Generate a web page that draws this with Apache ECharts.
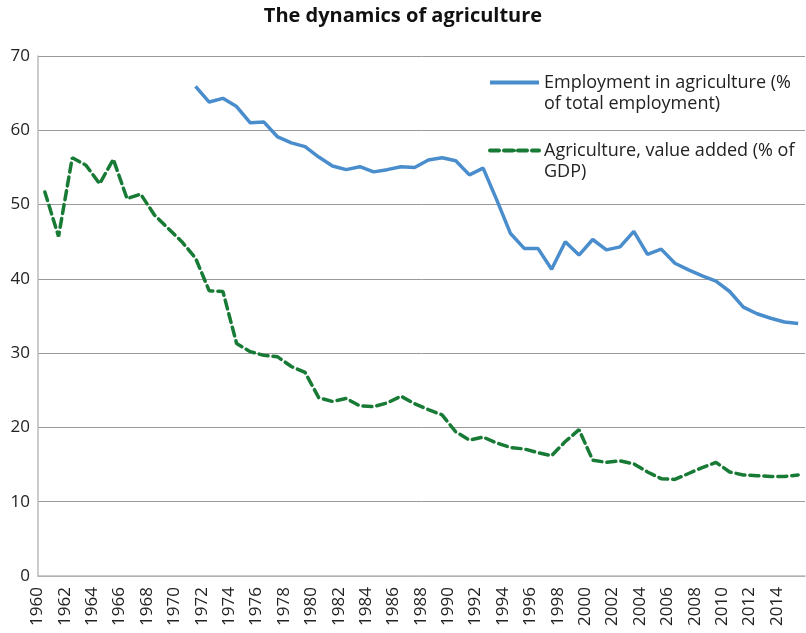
<!DOCTYPE html>
<html>
<head>
<meta charset="utf-8">
<script src="https://cdn.jsdelivr.net/npm/echarts@6/dist/echarts.min.js"></script>
<style>
  html, body { margin: 0; padding: 0; background: #fff; }
  #chart { width: 806px; height: 633px; }
</style>
</head>
<body>
<div id="chart"></div>
<script>
// years 1960..2015
const years = [];
for (let y = 1960; y <= 2015; y++) years.push(String(y));

// Employment in agriculture (% of total employment), 1960..2015 (starts 1971)
const employment = [
  null, null, null, null, null, null, null, null, null, null, null,
  65.9, 63.8, 64.3, 63.2, 61.0, 61.1, 59.1, 58.3, 57.8,
  56.4, 55.2, 54.7, 55.1, 54.4, 54.7, 55.1, 55.0, 56.0, 56.3,
  55.9, 54.0, 54.9, 50.6, 46.1, 44.1, 44.1, 41.3, 45.0, 43.2,
  45.3, 43.9, 44.3, 46.4, 43.3, 44.0, 42.1, 41.2, 40.4, 39.7,
  38.3, 36.2, 35.3, 34.7, 34.2, 34.0
];

// Agriculture, value added (% of GDP), 1960..2015
const valueAdded = [
  51.7, 45.7, 56.3, 55.3, 52.8, 56.1, 50.8, 51.4, 48.6, 46.8,
  45.0, 42.8, 38.4, 38.3, 31.3, 30.2, 29.7, 29.5, 28.2, 27.4,
  24.0, 23.5, 23.9, 22.9, 22.8, 23.3, 24.2, 23.2, 22.4, 21.7,
  19.4, 18.3, 18.7, 17.9, 17.3, 17.1, 16.6, 16.2, 18.1, 19.7,
  15.6, 15.3, 15.5, 15.1, 14.0, 13.1, 13.0, 13.8, 14.6, 15.3,
  14.0, 13.6, 13.5, 13.4, 13.4, 13.6
];

const empName = 'Employment in agriculture (%\nof total employment)';
const vaName = 'Agriculture, value added (% of\nGDP)';

const chart = echarts.init(document.getElementById('chart'));

chart.setOption({
  animation: false,
  textStyle: { fontFamily: 'Open Sans, sans-serif' },
  title: {
    text: 'The dynamics of agriculture',
    left: 'center',
    top: 1,
    textStyle: { fontSize: 20, fontWeight: 'bold', color: '#111' }
  },
  legend: {
    orient: 'vertical',
    left: 483,
    top: 46,
    itemWidth: 49,
    itemHeight: 4,
    itemGap: 5,
    lineStyle: { width: 4 },
    // blank first row so the line sits level with the first text row
    formatter: name => '\u00a0\n' + name,
    textStyle: { fontSize: 18, color: '#222', lineHeight: 21 },
    data: [{ name: empName }, { name: vaName }]
  },
  grid: { left: 38, right: 1, top: 56, bottom: 57, containLabel: false },
  xAxis: {
    type: 'category',
    data: years,
    boundaryGap: true,
    axisLine: { lineStyle: { color: '#bbb', width: 1.5 } },
    axisTick: { show: false },
    axisLabel: {
      interval: 1,
      rotate: 90,
      fontSize: 17,
      lineHeight: 15,
      verticalAlign: 'bottom',
      color: '#222',
      margin: 11
    }
  },
  yAxis: {
    type: 'value',
    min: 0,
    max: 70,
    interval: 10,
    axisLine: { show: true, lineStyle: { color: '#bbb', width: 1.5 } },
    axisTick: { show: false },
    axisLabel: { fontSize: 17, color: '#222', margin: 8 },
    splitLine: { lineStyle: { color: '#999', width: 1 } }
  },
  series: [
    {
      name: empName,
      type: 'line',
      data: employment,
      showSymbol: false,
      symbol: 'none',
      lineStyle: { color: '#4a8dcc', width: 3.5 },
      itemStyle: { color: '#4a8dcc' }
    },
    {
      name: vaName,
      type: 'line',
      data: valueAdded,
      showSymbol: false,
      symbol: 'none',
      lineStyle: { color: '#177a35', width: 3.5, type: [9, 5], cap: 'round' },
      itemStyle: { color: '#177a35' }
    }
  ]
});
</script>
</body>
</html>
